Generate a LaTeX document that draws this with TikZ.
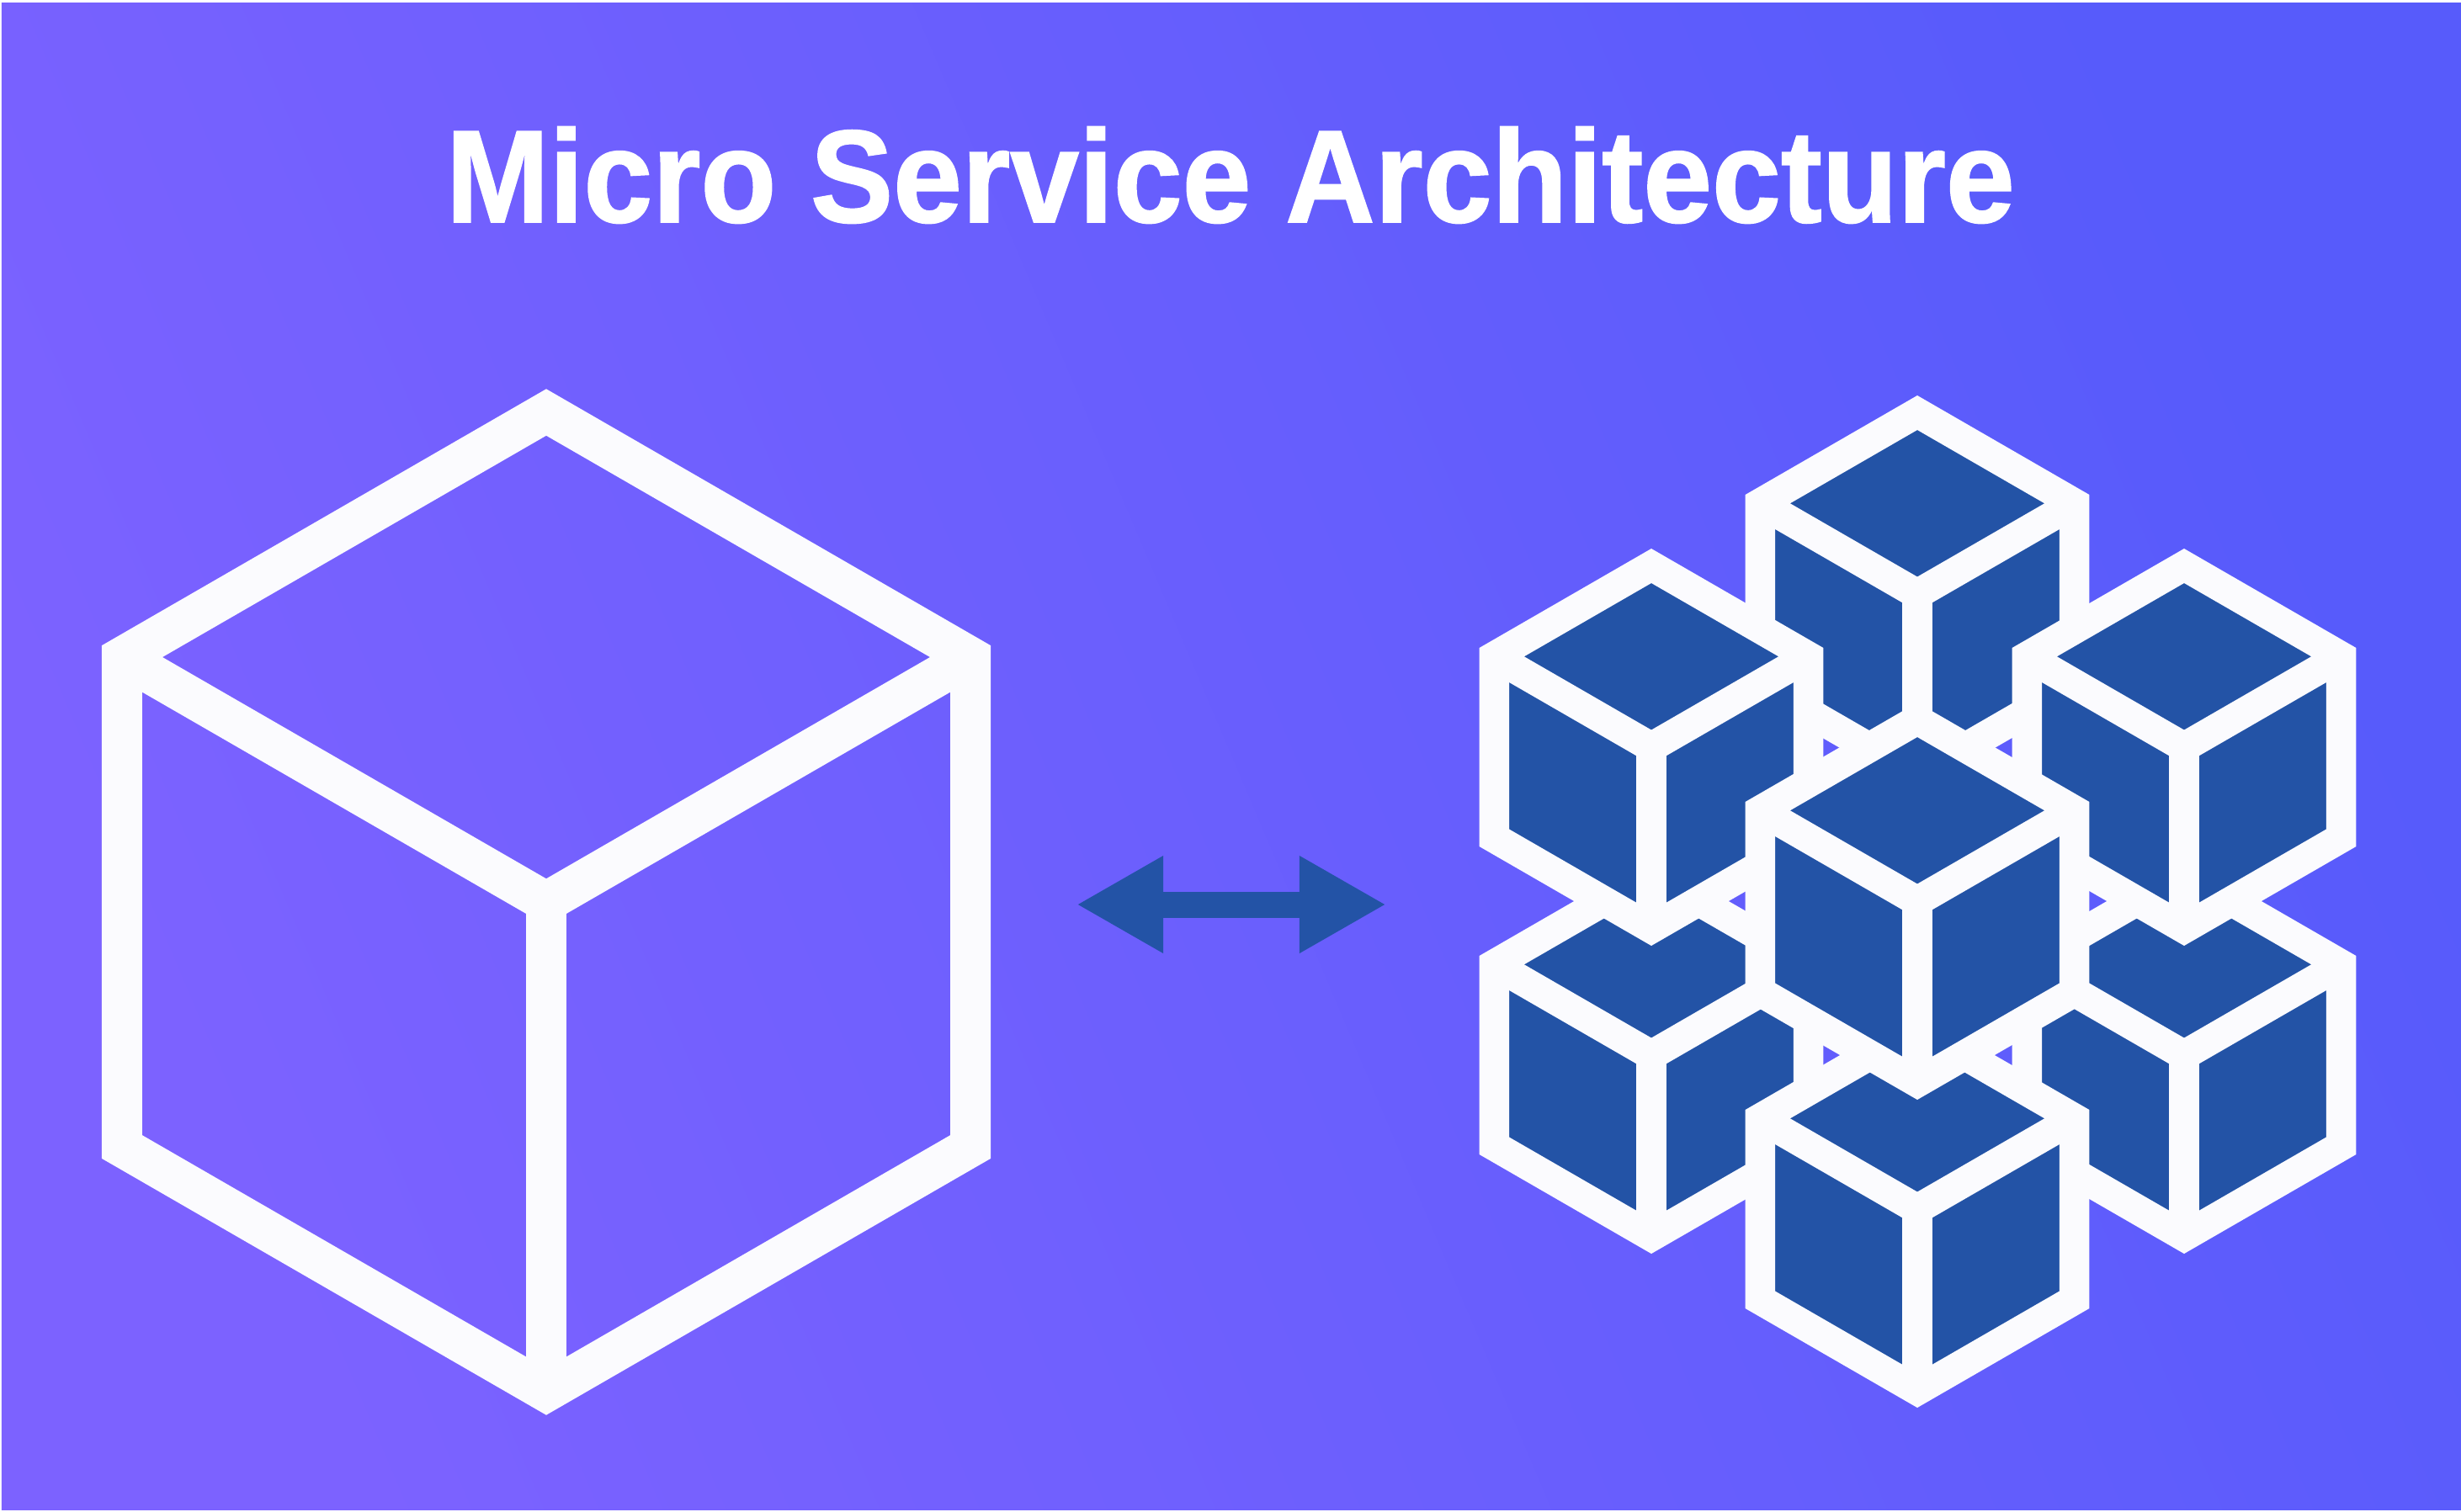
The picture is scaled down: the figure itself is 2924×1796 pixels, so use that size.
\documentclass[tikz,border=0pt]{standalone}
\usepackage{fontspec}
\setmainfont{Liberation Sans}
\newfontfamily\titlefont{Liberation Sans}[BoldFeatures={FakeBold=1.2}]
\usepackage{xcolor}
\usetikzlibrary{arrows, arrows.meta}
\usetikzlibrary{calc}

\definecolor{bgleft}{HTML}{7C62FF}
\definecolor{bgright}{HTML}{575BFB}
\definecolor{cubewhite}{HTML}{FBFBFE}
\definecolor{cubeblue}{HTML}{2353A6}

\tikzset{
  bigcube/.style={draw=cubewhite, line width=0.48cm, miter limit=10},
  smallcube/.style={draw=cubewhite, line width=0.355cm, miter limit=10},
  doublearrow/.style={draw=cubeblue, line width=0.31cm,
    {Triangle[length=1.03cm,width=1.08cm]}-{Triangle[length=1.03cm,width=1.08cm]}}
}

\begin{document}
\begin{tikzpicture}[x=0.01cm, y=-0.01cm]
        \useasboundingbox (0,0) rectangle (2924,1796);
        \fill[white] (0,0) rectangle (2924,1796);
        \shade[left color=bgleft, right color=bgright, shading angle=113] (2,3) rectangle (2924,1794);

        % single big cube
        \begin{scope}[shift={(649,1072)}]
          \draw[bigcube] (30:582) -- (90:582) -- (150:582) -- (210:582) -- (270:582) -- (330:582) -- cycle;
          \draw[bigcube] (210:582) -- (0,0) -- (330:582);
          \draw[bigcube] (0,0) -- (90:582);
        \end{scope}

        % small cubes, the last one lies on top
        \foreach \cx/\cy in {2278/706, 1962/1254, 2595/1254, 1962/888, 2595/888, 2278/1437, 2278/1071} {
          \begin{scope}[shift={(\cx,\cy)}]
            \draw[smallcube, fill=cubeblue] (30:215.5) -- (90:215.5) -- (150:215.5) -- (210:215.5) -- (270:215.5) -- (330:215.5) -- cycle;
            \draw[smallcube] (210:215.5) -- (0,0) -- (330:215.5);
            \draw[smallcube] (0,0) -- (90:215.5);
          \end{scope}
        }

        \coordinate (arrowleft) at (1279,1075);
        \coordinate (arrowright) at (1647,1075);
        \draw[doublearrow] (arrowleft) -- (arrowright);

        \node[text=white, font=\titlefont\bfseries\fontsize{44.5}{50}\selectfont, inner sep=0pt, xscale=0.94] (title) at (1462,208) {Micro Service Architecture};
      \end{tikzpicture}
\end{document}
